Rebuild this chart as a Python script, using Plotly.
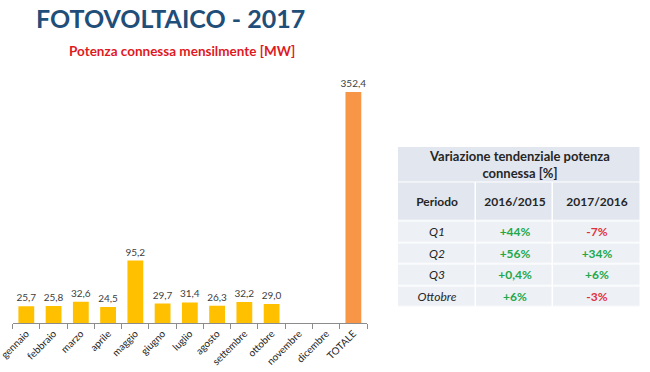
import plotly.graph_objects as go

# ---- data ----
mesi = ["gennaio", "febbraio", "marzo", "aprile", "maggio", "giugno", "luglio",
        "agosto", "settembre", "ottobre", "novembre", "dicembre", "TOTALE"]
potenza_mw = [25.7, 25.8, 32.6, 24.5, 95.2, 29.7, 31.4, 26.3, 32.2, 29.0, None, None, 352.4]

periodi = ["Q1", "Q2", "Q3", "Ottobre"]
var_2016_2015 = [44, 56, 0.4, 6]
var_2017_2016 = [-7, 34, 6, -3]

title_text = "FOTOVOLTAICO - 2017"
subtitle_text = "Potenza connessa mensilmente [MW]"
table_title = "Variazione tendenziale potenza<br>connessa [%]"
table_cols = ["Periodo", "2016/2015", "2017/2016"]

# ---- styles / layout constants ----
FONT = "Lato"
W, H = 650, 372
BAR_COL = "#FFC000"
TOT_COL = "#F79646"
GREEN = "#22A84A"
RED = "#E0303C"
TXT = "#262626"
HEAD_FILL = "#E2E7EF"
CELL_FILL = "#EDF0F5"

# table geometry (pixel units within the table box)
TBL_LEFT, TBL_RIGHT, TBL_TOP, TBL_BOTTOM = 398, 641, 147, 307.5
col_edges = [0, 78, 155, 243]
title_row_edges = [0, 35.5]
body_row_edges = [35.5, 74.5, 96, 117.5, 139, 160.5]


def fmt(v):
    s = ("%+g" % v).replace(".", ",")
    color = GREEN if v >= 0 else RED
    return "<span style='color:%s'><b>%s%%</b></span>" % (color, s)


colors = [TOT_COL if m == "TOTALE" else BAR_COL for m in mesi]

fig = go.Figure()
fig.add_trace(go.Bar(
    x=mesi, y=potenza_mw, marker=dict(color=colors, line=dict(width=0)),
    text=potenza_mw, texttemplate="%{y:.1f}", textposition="outside",
    constraintext="none",
    textfont=dict(family=FONT, size=10, color="#404040"),
    cliponaxis=False, hoverinfo="x+y", showlegend=False,
))

# table: merged title cell
fig.add_trace(go.Heatmap(
    x=[col_edges[0], col_edges[-1]], y=title_row_edges, z=[[0]],
    text=[["<b>%s</b>" % table_title]], texttemplate="%{text}",
    textfont=dict(family=FONT, size=13, color=TXT),
    colorscale=[[0, HEAD_FILL], [1, CELL_FILL]], zmin=0, zmax=1,
    showscale=False, xgap=1.5, ygap=1.5, hoverinfo="skip",
    xaxis="x2", yaxis="y2",
))

# table: header row + data rows
body_z = [[0, 0, 0]] + [[1, 1, 1] for _ in periodi]
body_text = [["<b>%s</b>" % c for c in table_cols]] + [
    ["<i>%s</i>" % p, fmt(a), fmt(b)]
    for p, a, b in zip(periodi, var_2016_2015, var_2017_2016)
]
fig.add_trace(go.Heatmap(
    x=col_edges, y=body_row_edges, z=body_z,
    text=body_text, texttemplate="%{text}",
    textfont=dict(family=FONT, size=12, color=TXT),
    colorscale=[[0, HEAD_FILL], [1, CELL_FILL]], zmin=0, zmax=1,
    showscale=False, xgap=1.5, ygap=1.5, hoverinfo="skip",
    xaxis="x2", yaxis="y2",
))

fig.add_annotation(text="<b>%s</b>" % title_text, xref="paper", yref="paper",
                   x=34 / W, y=1 - 18 / H, xanchor="left", yanchor="middle",
                   showarrow=False, font=dict(family=FONT, size=25, color="#1F4E79"))
fig.add_annotation(text="<b>%s</b>" % subtitle_text, xref="paper", yref="paper",
                   x=297 / W, y=1 - 51 / H, xanchor="right", yanchor="middle",
                   showarrow=False, font=dict(family=FONT, size=13.5, color="#E0191F"))

fig.update_layout(
    width=W, height=H, margin=dict(l=0, r=0, t=0, b=0),
    paper_bgcolor="white", plot_bgcolor="white",
    separators=",.", bargap=0.42,
    xaxis=dict(domain=[12.7 / W, 367 / W], type="category", tickson="boundaries",
               ticks="outside", ticklen=5, tickcolor="#8C8C8C", showline=True,
               linecolor="#8C8C8C", linewidth=1, tickangle=-45, automargin=False,
               tickfont=dict(family=FONT, size=10, color=TXT), showgrid=False),
    yaxis=dict(domain=[(H - 323) / H, (H - 74) / H], range=[0, 380], visible=False,
               showgrid=False, zeroline=False),
    xaxis2=dict(domain=[TBL_LEFT / W, TBL_RIGHT / W], range=[col_edges[0], col_edges[-1]],
                visible=False, anchor="y2", showgrid=False, zeroline=False),
    yaxis2=dict(domain=[(H - TBL_BOTTOM) / H, (H - TBL_TOP) / H],
                range=[body_row_edges[-1], title_row_edges[0]],
                visible=False, anchor="x2", showgrid=False, zeroline=False),
)

fig.write_html("out.html", config={"displayModeBar": False},
               post_script="document.body.style.margin='0';document.body.style.padding='0';")
